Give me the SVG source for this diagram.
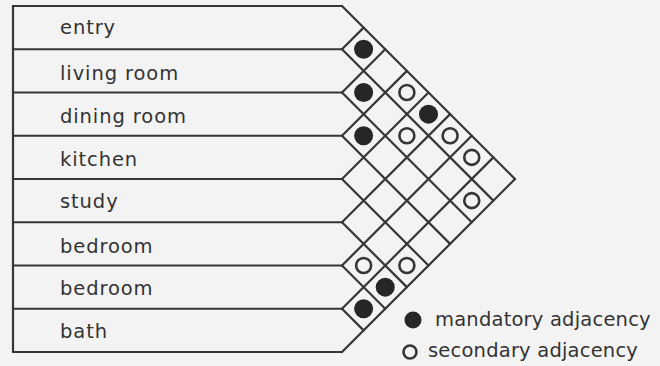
<svg xmlns="http://www.w3.org/2000/svg" width="660" height="366" viewBox="0 0 660 366">
  <style>
    .ln{stroke:#363636;stroke-width:2.2;fill:none;stroke-linecap:round;stroke-linejoin:round}
    .lbl{font-family:"DejaVu Sans",sans-serif;font-size:19.5px;letter-spacing:0.9px;fill:#333333}
    .leg{font-family:"DejaVu Sans",sans-serif;font-size:19.5px;letter-spacing:0.2px;fill:#333333}
    .must{fill:#262626}
    .opt{fill:none;stroke:#363636;stroke-width:2.6}
  </style>
  <rect width="660" height="366" fill="#f3f3f3"/>
  <g id="rows">
    <g id="row-entry"><line class="ln" x1="13" y1="6" x2="342" y2="6"/><text class="lbl" x="60" y="34">entry</text></g>
    <g id="row-living-room"><line class="ln" x1="13" y1="49.25" x2="342" y2="49.25"/><text class="lbl" x="60" y="79.5">living room</text></g>
    <g id="row-dining-room"><line class="ln" x1="13" y1="92.5" x2="342" y2="92.5"/><text class="lbl" x="60" y="123">dining room</text></g>
    <g id="row-kitchen"><line class="ln" x1="13" y1="135.75" x2="342" y2="135.75"/><text class="lbl" x="60" y="166">kitchen</text></g>
    <g id="row-study"><line class="ln" x1="13" y1="179" x2="342" y2="179"/><text class="lbl" x="60" y="208">study</text></g>
    <g id="row-bedroom-1"><line class="ln" x1="13" y1="222.25" x2="342" y2="222.25"/><text class="lbl" x="60" y="252.5">bedroom</text></g>
    <g id="row-bedroom-2"><line class="ln" x1="13" y1="265.5" x2="342" y2="265.5"/><text class="lbl" x="60" y="295">bedroom</text></g>
    <g id="row-bath"><line class="ln" x1="13" y1="308.75" x2="342" y2="308.75"/><line class="ln" x1="13" y1="352" x2="342" y2="352"/><text class="lbl" x="60" y="338">bath</text></g>
    <line class="ln" x1="13" y1="6" x2="13" y2="352"/>
  </g>
  <g id="connectors">
    <line class="ln" x1="342" y1="6" x2="515" y2="179"/>
    <line class="ln" x1="342" y1="49.25" x2="493.375" y2="200.625"/>
    <line class="ln" x1="342" y1="92.5" x2="471.75" y2="222.25"/>
    <line class="ln" x1="342" y1="135.75" x2="450.125" y2="243.875"/>
    <line class="ln" x1="342" y1="179" x2="428.5" y2="265.5"/>
    <line class="ln" x1="342" y1="222.25" x2="406.875" y2="287.125"/>
    <line class="ln" x1="342" y1="265.5" x2="385.25" y2="308.75"/>
    <line class="ln" x1="342" y1="308.75" x2="363.625" y2="330.375"/>
    <line class="ln" x1="342" y1="49.25" x2="363.625" y2="27.625"/>
    <line class="ln" x1="342" y1="92.5" x2="385.25" y2="49.25"/>
    <line class="ln" x1="342" y1="135.75" x2="406.875" y2="70.875"/>
    <line class="ln" x1="342" y1="179" x2="428.5" y2="92.5"/>
    <line class="ln" x1="342" y1="222.25" x2="450.125" y2="114.125"/>
    <line class="ln" x1="342" y1="265.5" x2="471.75" y2="135.75"/>
    <line class="ln" x1="342" y1="308.75" x2="493.375" y2="157.375"/>
    <line class="ln" x1="342" y1="352" x2="515" y2="179"/>
  </g>
  <g id="adjacencies">
    <circle class="must" cx="363.625" cy="49.25" r="9.5"/>
    <circle class="must" cx="363.625" cy="92.5" r="9.5"/>
    <circle class="must" cx="428.5" cy="114.125" r="9.5"/>
    <circle class="must" cx="363.625" cy="135.75" r="9.5"/>
    <circle class="must" cx="385.25" cy="287.125" r="9.5"/>
    <circle class="must" cx="363.625" cy="308.75" r="9.5"/>
    <circle class="opt" cx="406.875" cy="92.5" r="7.5"/>
    <circle class="opt" cx="406.875" cy="135.75" r="7.5"/>
    <circle class="opt" cx="450.125" cy="135.75" r="7.5"/>
    <circle class="opt" cx="471.75" cy="157.375" r="7.5"/>
    <circle class="opt" cx="471.75" cy="200.625" r="7.5"/>
    <circle class="opt" cx="363.625" cy="265.5" r="7.5"/>
    <circle class="opt" cx="406.875" cy="265.5" r="7.5"/>
  </g>
  <g id="legend">
    <circle class="must" cx="413" cy="320" r="8.5"/>
    <text class="leg" x="435" y="326">mandatory adjacency</text>
    <circle class="opt" cx="410" cy="352" r="6.5"/>
    <text class="leg" x="428" y="357">secondary adjacency</text>
  </g>
</svg>
